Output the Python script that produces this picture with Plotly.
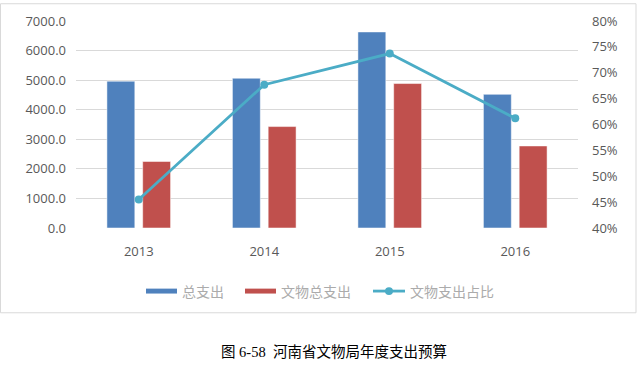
import plotly.graph_objects as go

years = ["2013", "2014", "2015", "2016"]
total_spend = [4965, 5065, 6630, 4520]
relic_spend = [2250, 3430, 4885, 2775]
relic_share = [0.455, 0.677, 0.737, 0.612]

names = ["总支出", "文物总支出", "文物支出占比"]
caption = "图 6-58  河南省文物局年度支出预算"

W, H = 638, 366
ML, MR, MT, MB = 76, 60, 18, 138
PW, PH = W - ML - MR, H - MT - MB

BLUE, RED, TEAL = "#4F81BD", "#C0504D", "#4BACC6"
TICK = "#595959"
FONT = "Open Sans, Noto Sans CJK SC, sans-serif"


def px(x):
    return (x - ML) / PW


def py(y):
    return (H - MB - y) / PH


fig = go.Figure()
fig.add_trace(go.Bar(x=years, y=total_spend, name=names[0], marker_color=BLUE,
                     marker_line=dict(color="rgba(255,255,255,0.5)", width=1)))
fig.add_trace(go.Bar(x=years, y=relic_spend, name=names[1], marker_color=RED,
                     marker_line=dict(color="rgba(255,255,255,0.5)", width=1)))
fig.add_trace(go.Scatter(x=years, y=relic_share, name=names[2], yaxis="y2",
                         mode="lines+markers", line=dict(color=TEAL, width=2.8),
                         marker=dict(color=TEAL, size=8)))

shapes = [
    dict(type="rect", xref="paper", yref="paper", x0=px(0.5), x1=px(636), y0=py(314), y1=py(0.5),
         line=dict(color="#D9D9D9", width=1), fillcolor="rgba(0,0,0,0)", layer="below"),
    dict(type="rect", xref="paper", yref="paper", x0=px(146), x1=px(177), y0=py(294.5), y1=py(289.5),
         line=dict(width=0), fillcolor=BLUE),
    dict(type="rect", xref="paper", yref="paper", x0=px(245), x1=px(276), y0=py(294.5), y1=py(289.5),
         line=dict(width=0), fillcolor=RED),
    dict(type="line", xref="paper", yref="paper", x0=px(373), x1=px(405), y0=py(292), y1=py(292),
         line=dict(color=TEAL, width=2.8)),
    dict(type="circle", xref="paper", yref="paper", x0=px(385), x1=px(393), y0=py(296), y1=py(288),
         line=dict(width=0), fillcolor=TEAL),
]

legend_font = dict(family="Noto Sans CJK SC, sans-serif", size=14, color="#ABABAB")
annotations = [
    dict(text=names[0], xref="paper", yref="paper", x=px(180), y=py(292), xanchor="left",
         yanchor="middle", showarrow=False, font=legend_font),
    dict(text=names[1], xref="paper", yref="paper", x=px(279), y=py(292), xanchor="left",
         yanchor="middle", showarrow=False, font=legend_font),
    dict(text=names[2], xref="paper", yref="paper", x=px(408), y=py(292), xanchor="left",
         yanchor="middle", showarrow=False, font=legend_font),
    dict(text=caption, xref="paper", yref="paper", x=px(334), y=py(354), xanchor="center",
         yanchor="middle", showarrow=False,
         font=dict(family="Liberation Serif, Noto Sans CJK SC, serif", size=14.5, color="#000000")),
]

fig.update_layout(
    width=W, height=H,
    margin=dict(l=ML, r=MR, t=MT, b=MB, pad=0),
    paper_bgcolor="white", plot_bgcolor="white",
    barmode="group", bargap=0.43, bargroupgap=0.22,
    showlegend=False,
    font=dict(family=FONT, size=13, color=TICK),
    xaxis=dict(showgrid=False, showline=False, ticks="", zeroline=False,
               tickfont=dict(size=13, color=TICK), ticklabelstandoff=14),
    yaxis=dict(range=[0, 7000], dtick=1000, tickformat=".1f", showgrid=True,
               gridcolor="#D9D9D9", gridwidth=1, zeroline=False, showline=False, ticks="",
               tickfont=dict(size=13, color=TICK), ticklabelstandoff=9),
    yaxis2=dict(range=[0.4, 0.8], dtick=0.05, tickformat=".0%", overlaying="y", side="right",
                showgrid=False, zeroline=False, showline=False, ticks="",
                tickfont=dict(size=13, color=TICK), ticklabelstandoff=13),
    shapes=shapes,
    annotations=annotations,
)

fig.write_html("out.html", config={"displayModeBar": False},
               post_script="document.body.style.margin='0';document.body.style.overflow='hidden';")
